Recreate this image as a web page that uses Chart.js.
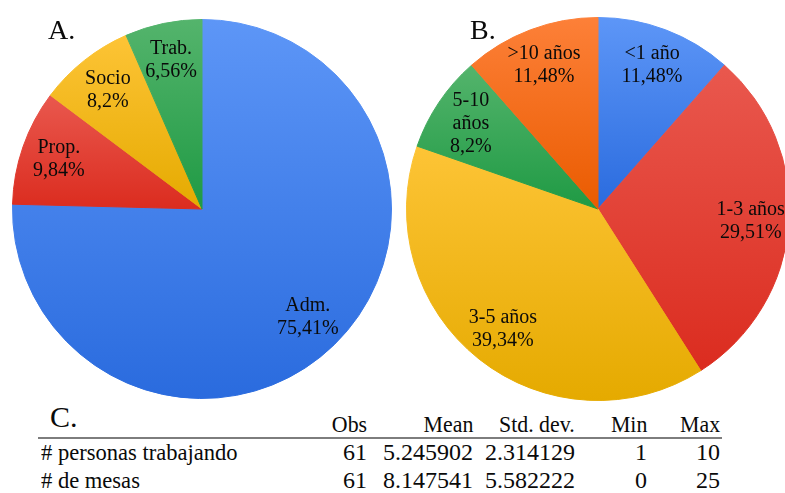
<!DOCTYPE html>
<html>
<head>
<meta charset="utf-8">
<script src="https://cdn.jsdelivr.net/npm/chart.js@4/dist/chart.umd.min.js"></script>
<style>
  html, body { margin: 0; padding: 0; background: #fff; }
  #page { position: relative; width: 785px; height: 493px; overflow: hidden; background: #fff;
          font-family: "Liberation Serif", "Times New Roman", serif; color: #0a0a0a; }
  canvas { position: absolute; }
  .txt { position: absolute; white-space: nowrap; line-height: 1; }
  .r { text-align: right; }
  #rule { position: absolute; left: 38px; width: 684px; top: 437px; height: 2px; background: #7d7d7d; }
</style>
</head>
<body>
<div id="page">
  <canvas id="pieA" width="380" height="380" style="left:12px; top:19px;"></canvas>
  <canvas id="pieB" width="384" height="384" style="left:406px; top:17px;"></canvas>
  <div id="rule"></div>
</div>
<script>
// Panel A: position in the business
const categoriesA = ['Adm.', 'Prop.', 'Socio', 'Trab.'];
const valuesA = [75.41, 9.84, 8.2, 6.56];

// Panel B: years in the business
const categoriesB = ['<1 año', '1-3 años', '3-5 años', ['5-10', 'años'], '>10 años'];
const valuesB = [11.48, 29.51, 39.34, 8.2, 11.48];

// Panel C: summary statistics
const statHeaders = ['Obs', 'Mean', 'Std. dev.', 'Min', 'Max'];
const statRows = ['# personas trabajando', '# de mesas'];
const statObs = ['61', '61'];
const statMean = ['5.245902', '8.147541'];
const statSd = ['2.314129', '5.582222'];
const statMin = ['1', '0'];
const statMax = ['10', '25'];

// slice fills: light at the top of each slice, darker at its bottom
const BLUE = ['#5d96f7', '#2a6bde'];
const RED = ['#e9584e', '#db2c1f'];
const YELLOW = ['#fdc436', '#e5aa00'];
const GREEN = ['#54b46c', '#1f9a44'];
const ORANGE = ['#fd8038', '#ea5b00'];

const sliceGradient = {
  id: 'sliceGradient',
  beforeDatasetDraw(chart, args) {
    const ctx = chart.ctx;
    const ds = chart.data.datasets[args.index];
    args.meta.data.forEach((arc, i) => {
      const { x, y, startAngle, endAngle, outerRadius } = arc.getProps(['x', 'y', 'startAngle', 'endAngle', 'outerRadius'], true);
      const ys = [y, y + Math.sin(startAngle) * outerRadius, y + Math.sin(endAngle) * outerRadius];
      [-Math.PI / 2, Math.PI / 2, 3 * Math.PI / 2].forEach(a => {
        if (a >= startAngle && a <= endAngle) ys.push(y + Math.sin(a) * outerRadius);
      });
      const g = ctx.createLinearGradient(0, Math.min(...ys), 0, Math.max(...ys));
      g.addColorStop(0, ds.fills[i][0]);
      g.addColorStop(1, ds.fills[i][1]);
      arc.options.backgroundColor = g;
      arc.options.borderColor = g;
    });
  }
};

const sliceLabels = {
  id: 'sliceLabels',
  afterDatasetsDraw(chart, args, opts) {
    const ctx = chart.ctx;
    const meta = chart.getDatasetMeta(0);
    const values = chart.data.datasets[0].data;
    ctx.save();
    ctx.font = opts.font;
    ctx.fillStyle = opts.color;
    ctx.textAlign = 'center';
    ctx.textBaseline = 'middle';
    meta.data.forEach((arc, i) => {
      const { x, y, startAngle, endAngle, outerRadius } = arc.getProps(['x', 'y', 'startAngle', 'endAngle', 'outerRadius'], true);
      const mid = (startAngle + endAngle) / 2;
      const r = outerRadius * opts.radius;
      const cx = x + Math.cos(mid) * r;
      const cy = y + Math.sin(mid) * r;
      const name = chart.data.labels[i];
      const lines = (Array.isArray(name) ? name : [name]).concat(String(values[i]).replace('.', ',') + '%');
      lines.forEach((t, k) => {
        ctx.fillText(t, cx, cy + (k - (lines.length - 1) / 2) * opts.lineHeight);
      });
    });
    ctx.restore();
  }
};

function pie(id, labels, values, fills) {
  return new Chart(document.getElementById(id), {
    type: 'pie',
    data: {
      labels: labels,
      datasets: [{ data: values, fills: fills, borderWidth: 1, backgroundColor: fills.map(f => f[0]) }]
    },
    options: {
      responsive: false,
      maintainAspectRatio: false,
      animation: false,
      layout: { padding: 0 },
      plugins: {
        legend: { display: false },
        tooltip: { enabled: false },
        sliceLabels: { font: '20px "Liberation Serif", serif', color: '#0a0a0a', radius: 0.8, lineHeight: 23 }
      }
    },
    plugins: [sliceGradient, sliceLabels]
  });
}

pie('pieA', categoriesA, valuesA, [BLUE, RED, YELLOW, GREEN]);
pie('pieB', categoriesB, valuesB, [BLUE, RED, YELLOW, GREEN, ORANGE]);

// text placed by its baseline (Liberation Serif ascent ≈ 0.8375 em with line-height 1)
const page = document.getElementById('page');
function text(str, size, baseline, opts) {
  const d = document.createElement('div');
  d.className = 'txt' + (opts.right !== undefined ? ' r' : '');
  d.textContent = str;
  d.style.fontSize = size + 'px';
  d.style.top = (baseline - 0.8375 * size) + 'px';
  if (opts.right !== undefined) { d.style.right = (785 - opts.right) + 'px'; d.style.transformOrigin = 'right'; }
  else { d.style.left = opts.left + 'px'; d.style.transformOrigin = 'left'; }
  if (opts.sx) d.style.transform = 'scaleX(' + opts.sx + ')';
  page.appendChild(d);
}

text('A.', 28, 39, { left: 48 });
text('B.', 28, 39, { left: 470 });
text('C.', 30, 427, { left: 50 });

const colRight = [367, 473, 575, 647, 720];
const headBase = 432, rowBase = [460, 488];
statHeaders.forEach((h, j) => text(h, 23, headBase, { right: colRight[j], sx: 0.95 }));
statRows.forEach((name, i) => {
  text(name, 23, rowBase[i], { left: 41, sx: 0.98 });
  [statObs, statMean, statSd, statMin, statMax].forEach((col, j) => {
    text(col[i], 24, rowBase[i], { right: colRight[j], sx: 1.0 });
  });
});
</script>
</body>
</html>
